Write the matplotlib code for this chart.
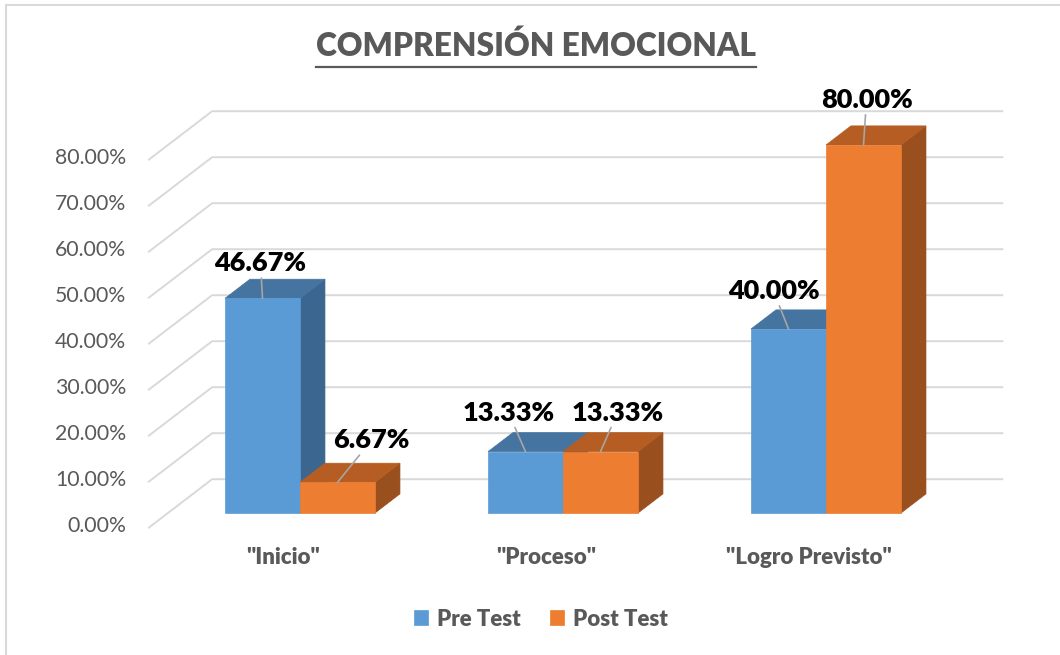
import matplotlib.pyplot as plt
from matplotlib.patches import Polygon
from matplotlib.lines import Line2D

categories = ['"Inicio"', '"Proceso"', '"Logro Previsto"']
series_names = ["Pre Test", "Post Test"]
pre_test = [46.67, 13.33, 40.00]
post_test = [6.67, 13.33, 80.00]
y_ticks = [0, 10, 20, 30, 40, 50, 60, 70, 80]

front_colors = ["#5B9BD5", "#ED7D31"]
top_colors = ["#4674A0", "#B55D22"]
side_colors = ["#3B6690", "#9A4F1E"]
grey_text = "#595959"
grid_color = "#D9D9D9"

# where Excel put the data labels (pixels from the bar's top front edge)
label_offsets = [[(-2, 35), (34, 42)], [(-17, 39), (17, 39)], [(-15, 38), (3, 45)]]

W, H = 1060, 655
px_cat = 263.0    # pixels per category
px_pct = 4.6      # pixels per percent
x0_px, y0_px = 300.0, 513.0

fig = plt.figure(figsize=(W / 100, H / 100), dpi=100)
ax = fig.add_axes([0, 0, 1, 1])
ax.set_xlim(-x0_px / px_cat, (W - x0_px) / px_cat)
ax.set_ylim((y0_px - H) / px_pct, y0_px / px_pct)
ax.axis("off")

# fake 3d depth
dx, dy = 64 / px_cat, 49 / px_pct
front, back, bar_depth = -0.31, 0.69, 0.39
x_left, x_right = -0.502, 2.506

for v in y_ticks:
    xs = [x_left + front * dx, x_left + back * dx, x_right + back * dx]
    ys = [v + front * dy, v + back * dy, v + back * dy]
    ax.plot(xs, ys, color=grid_color, lw=1.4, zorder=1, solid_capstyle="butt")
    ax.text((126 - x0_px) / px_cat, v + front * dy + 0.4, f"{v:.2f}%",
            ha="right", va="center", fontsize=15.3, family="Lato", color=grey_text)

width = 75 / px_cat
bdx, bdy = bar_depth * dx, bar_depth * dy
handles = []
z = 3
for i in range(len(categories)):
    for s, vals in enumerate([pre_test, post_test]):
        v = vals[i]
        left = i - width if s == 0 else i
        right = left + width
        top = Polygon([(left, v), (right, v), (right + bdx, v + bdy), (left + bdx, v + bdy)],
                      closed=True, facecolor=top_colors[s], edgecolor=top_colors[s], lw=0.5, zorder=z)
        side = Polygon([(right, 0), (right, v), (right + bdx, v + bdy), (right + bdx, bdy)],
                       closed=True, facecolor=side_colors[s], edgecolor=side_colors[s], lw=0.5, zorder=z)
        ax.add_patch(side)
        ax.add_patch(top)
        bars = ax.bar(left, v, width, align="edge", color=front_colors[s],
                      edgecolor=front_colors[s], lw=0.5, zorder=z + 1, label=series_names[s])
        if i == 0:
            handles.append(bars)
        z += 2

        ax.annotate(f"{v:.2f}%", xy=(left + width / 2, v), xytext=label_offsets[i][s],
                    textcoords="offset pixels", ha="center", va="center",
                    fontsize=19.5, fontweight="heavy", family="Lato", color="black", zorder=20,
                    arrowprops=dict(arrowstyle="-", color="#A6A6A6", lw=1.2,
                                    shrinkA=0, shrinkB=0))

for i, cat in enumerate(categories):
    ax.text(i - 0.065, (y0_px - 558) / px_pct, cat, ha="center", va="center",
            fontsize=16, fontweight="heavy", family="Lato", color=grey_text)

# title with underline
title = fig.text(536 / W, 1 - 46 / H, "COMPRENSIÓN EMOCIONAL", ha="center", va="center",
                 fontsize=22.8, fontweight="heavy", family="Lato", color=grey_text)
fig.canvas.draw()
bb = title.get_window_extent()
fig.add_artist(Line2D([bb.x0 / W, bb.x1 / W], [1 - 67 / H, 1 - 67 / H],
                      transform=fig.transFigure, color=grey_text, lw=1.6))

ax.legend(handles, series_names, loc="center", bbox_to_anchor=(541 / W, 1 - 619 / H),
          bbox_transform=fig.transFigure, ncol=2, frameon=False,
          prop=dict(family="Lato", weight="heavy", size=16), labelcolor=grey_text,
          handlelength=0.65, handleheight=0.65, handletextpad=0.4, columnspacing=1.3)

# chart border (only top and left show in the original crop)
fig.add_artist(Line2D([6 / W, 6 / W], [0, 1 - 5 / H], transform=fig.transFigure,
                      color=grid_color, lw=1.5))
fig.add_artist(Line2D([6 / W, 1], [1 - 5 / H, 1 - 5 / H], transform=fig.transFigure,
                      color=grid_color, lw=1.5))

fig.savefig("out.png", dpi=100)
